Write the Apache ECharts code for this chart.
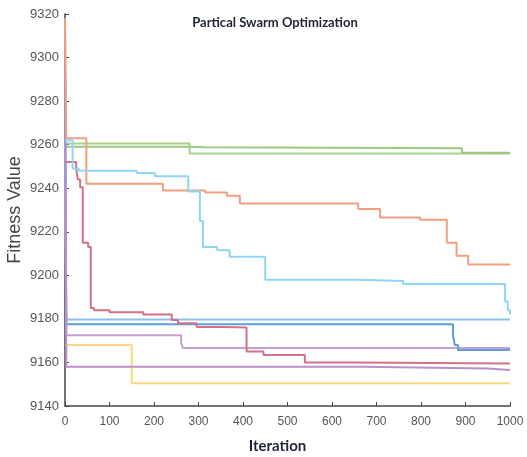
<!DOCTYPE html>
<html>
<head>
<meta charset="utf-8">
<script src="https://cdn.jsdelivr.net/npm/echarts@6/dist/echarts.min.js"></script>
<style>html,body{margin:0;padding:0;background:#fff}#c{width:527px;height:457px}</style>
</head>
<body>
<div id="c"></div>
<script>
// Iteration change points (x) and fitness values (y) for each particle curve (step lines)
const greenA_x = [0, 280, 1000];
const greenA_y = [9260.5, 9256, 9256];
const greenB_x = [0, 280, 315, 892, 1000];
const greenB_y = [9259, 9258.8, 9258.3, 9256.3, 9256.3];
const orange_x = [0, 3, 48, 220, 315, 364, 393, 659, 708, 798, 858, 880, 906, 1000];
const orange_y = [9318, 9263, 9242, 9239, 9238, 9236.5, 9233, 9230.5, 9226.5, 9225.5, 9215, 9209, 9205, 9205];
const lblue_x = [0, 17, 31, 161, 202, 277, 303, 310, 342, 370, 450, 659, 760, 989, 995, 1000];
const lblue_y = [9262, 9249, 9248, 9247, 9245.5, 9238.5, 9225, 9213, 9211.5, 9208.5, 9198, 9197.4, 9196, 9188, 9184, 9182];
const red_x = [0, 25, 29, 34, 40, 52, 58, 65, 100, 176, 240, 254, 296, 356, 408, 446, 539, 656, 1000];
const red_y = [9252, 9249, 9244, 9240.5, 9215, 9213, 9185, 9184, 9183, 9182, 9179.5, 9178, 9176.3, 9176, 9165, 9163.4, 9160, 9159.5, 9159.5];
const blueA_x = [0, 3, 1000];
const blueA_y = [9262, 9179.7, 9179.7];
const blueB_x = [0, 3, 872, 876, 883, 1000];
const blueB_y = [9295, 9177.5, 9172, 9168, 9165.7, 9165.7];
const purpleA_x = [0, 3, 261, 265, 1000];
const purpleA_y = [9240, 9172.5, 9169, 9166.6, 9166.6];
const purpleB_x = [0, 3, 670, 950, 1000];
const purpleB_y = [9316, 9158, 9157.2, 9156.5, 9156.5];
const yellow_x = [0, 150, 1000];
const yellow_y = [9168, 9150.5, 9150.5];

const xTicks = [0, 100, 200, 300, 400, 500, 600, 700, 800, 900, 1000];
const yTicks = [9140, 9160, 9180, 9200, 9220, 9240, 9260, 9280, 9300, 9320];

function zip(xs, ys) { return xs.map((x, i) => [x, ys[i]]); }

const curves = [
  { x: greenA_x, y: greenA_y, color: '#a9d18e' },
  { x: greenB_x, y: greenB_y, color: '#9cc97d' },
  { x: blueA_x, y: blueA_y, color: '#8cc2ea' },
  { x: purpleA_x, y: purpleA_y, color: '#c6a0d2' },
  { x: yellow_x, y: yellow_y, color: '#fbd781' },
  { x: blueB_x, y: blueB_y, color: '#5d9ed8' },
  { x: purpleB_x, y: purpleB_y, color: '#bb8fcb' },
  { x: red_x, y: red_y, color: '#d47285' },
  { x: orange_x, y: orange_y, color: '#f0a07f' },
  { x: lblue_x, y: lblue_y, color: '#8fd6f6' }
];

const chart = echarts.init(document.getElementById('c'), null, { renderer: 'canvas' });
chart.setOption({
  animation: false,
  backgroundColor: '#ffffff',
  title: {
    text: 'Partical Swarm Optimization',
    left: 270, top: 11, textAlign: 'center',
    textStyle: { fontFamily: 'Lato', fontWeight: 'bold', fontSize: 13, color: '#1f2433' }
  },
  grid: { left: 65, right: 17, top: 14, bottom: 51, containLabel: false, outerBoundsMode: 'none' },
  xAxis: {
    type: 'value', min: 0, max: 1000, interval: 100,
    name: 'Iteration', nameLocation: 'middle', nameGap: 33, nameMoveOverlap: false,
    nameTextStyle: { fontFamily: 'Lato', fontWeight: 'bold', fontSize: 15, color: '#1f2433', padding: [0, 20, 0, 0] },
    axisLine: { show: true, lineStyle: { color: '#444', width: 1.5 } },
    axisTick: { show: true, inside: true, length: 4, lineStyle: { color: '#444' } },
    axisLabel: { fontFamily: 'Liberation Sans', fontSize: 12, color: '#555', margin: 10,
      formatter: v => xTicks.includes(v) ? String(v) : '' },
    splitLine: { show: false }
  },
  yAxis: {
    type: 'value', min: 9140, max: 9320, interval: 20,
    name: 'Fitness Value', nameLocation: 'middle', nameGap: 41, nameMoveOverlap: false,
    nameTextStyle: { fontFamily: 'Liberation Sans', fontSize: 18, color: '#444' },
    axisLine: { show: true, lineStyle: { color: '#444', width: 1.5 } },
    axisTick: { show: true, inside: true, length: 4, lineStyle: { color: '#444' } },
    axisLabel: { fontFamily: 'Liberation Sans', fontSize: 13, color: '#555', margin: 6,
      formatter: v => yTicks.includes(v) ? String(v) : '' },
    splitLine: { show: false }
  },
  series: curves.map(c => ({
    type: 'line', step: 'end', showSymbol: false, symbol: 'none',
    data: zip(c.x, c.y),
    lineStyle: { color: c.color, width: 2 },
    itemStyle: { color: c.color }
  }))
});
</script>
</body>
</html>
